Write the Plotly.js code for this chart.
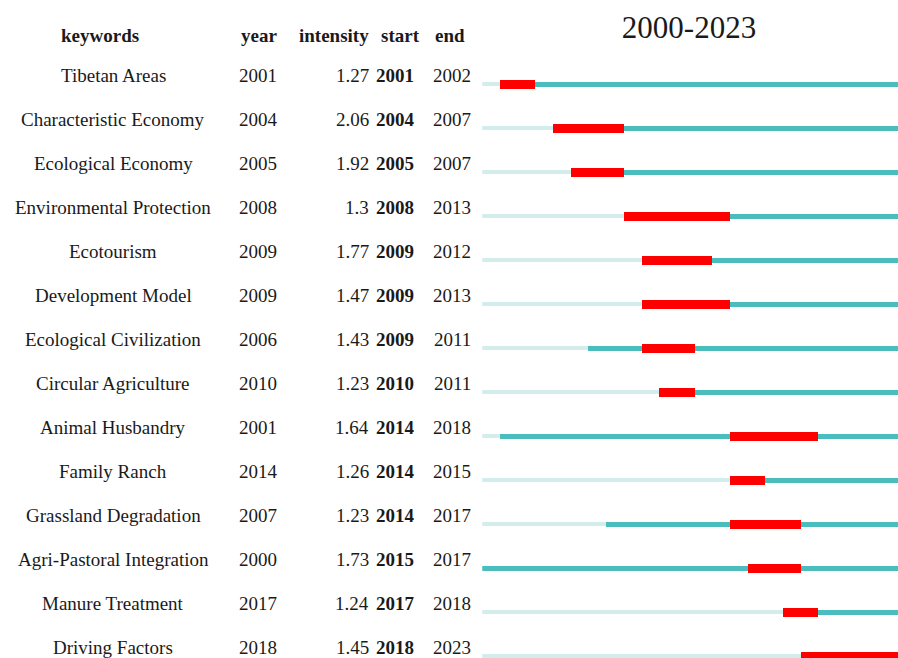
<!DOCTYPE html>
<html>
<head>
<meta charset="utf-8">
<script src="https://cdn.plot.ly/plotly-3.0.1.min.js"></script>
<style>html,body{margin:0;padding:0;background:#fff;}#chart{width:898px;height:658px;}</style>
</head>
<body>
<div id="chart"></div>
<script>
const keywords = ["Tibetan Areas","Characteristic Economy","Ecological Economy","Environmental Protection","Ecotourism","Development Model","Ecological Civilization","Circular Agriculture","Animal Husbandry","Family Ranch","Grassland Degradation","Agri-Pastoral Integration","Manure Treatment","Driving Factors"];
const years = [2001,2004,2005,2008,2009,2009,2006,2010,2001,2014,2007,2000,2017,2018];
const intensity = ["1.27","2.06","1.92","1.3","1.77","1.47","1.43","1.23","1.64","1.26","1.23","1.73","1.24","1.45"];
const starts = [2001,2004,2005,2008,2009,2009,2009,2010,2014,2014,2014,2015,2017,2018];
const ends = [2002,2007,2007,2013,2012,2013,2011,2011,2018,2015,2017,2017,2018,2023];
const headers = ["keywords","year","intensity","start","end"];
const firstYear = 2000, lastYear = 2023;

const W = 898, H = 658;
const rowPx = 44, firstRowPx = 84;
const pxToRow = p => (p - firstRowPx) / rowPx;
const idx = keywords.map((_, i) => i);
const yearPx = 17.69, x0px = 482.3;

const fontFam = '"Liberation Serif","Times New Roman",Times,serif';
const txtColor = '#1a1a1a';

const traces = [
  {type:'bar', orientation:'h', y: idx, base: idx.map(() => firstYear), x: idx.map(() => lastYear + 1 - firstYear),
   width: idx.map(() => 4/rowPx), marker:{color:'#d3ecec'}, hoverinfo:'skip'},
  {type:'bar', orientation:'h', y: idx, base: years, x: years.map(y => lastYear + 1 - y),
   width: idx.map(() => 5/rowPx), marker:{color:'#4bbdbd'}, hoverinfo:'skip'},
  {type:'bar', orientation:'h', y: idx, base: starts, x: starts.map((s, i) => ends[i] + 1 - s),
   width: idx.map(() => 9/rowPx), marker:{color:'#ff0000'}, hoverinfo:'skip'}
];

const ann = [];
const colX = [100, 259, 334, 400, 450];
headers.forEach((h, j) => ann.push({xref:'paper', yref:'y', x: colX[j]/W, y: pxToRow(35), text:'<b>'+h+'</b>',
  showarrow:false, xanchor:'center', yanchor:'middle', font:{family:fontFam, size:19, color:txtColor}}));
idx.forEach(i => {
  const yy = i - 9/rowPx;
  const f = {family:fontFam, size:19, color:txtColor};
  ann.push({xref:'paper', yref:'y', x:113/W, y:yy, text:keywords[i], showarrow:false, xanchor:'center', yanchor:'middle', font:f});
  ann.push({xref:'paper', yref:'y', x:258/W, y:yy, text:String(years[i]), showarrow:false, xanchor:'center', yanchor:'middle', font:f});
  ann.push({xref:'paper', yref:'y', x:371/W, y:yy, text:intensity[i], showarrow:false, xanchor:'right', yanchor:'middle', font:f});
  ann.push({xref:'paper', yref:'y', x:395/W, y:yy, text:'<b>'+starts[i]+'</b>', showarrow:false, xanchor:'center', yanchor:'middle', font:f});
  ann.push({xref:'paper', yref:'y', x:452/W, y:yy, text:String(ends[i]), showarrow:false, xanchor:'center', yanchor:'middle', font:f});
});

const layout = {
  width: W, height: H,
  margin:{l:0, r:0, t:0, b:0, pad:0},
  paper_bgcolor:'#fff', plot_bgcolor:'#fff',
  showlegend:false, barmode:'overlay', bargap:0,
  title:{text: firstYear + '-' + lastYear, x: 689/W, y: 1 - 27/H, xanchor:'center', yanchor:'middle',
    xref:'paper', yref:'container', font:{family:fontFam, size:31, color:txtColor}},
  xaxis:{domain:[x0px/W, 1], range:[firstYear, firstYear + (W - x0px)/yearPx], visible:false, fixedrange:true},
  yaxis:{range:[pxToRow(H), pxToRow(0)], visible:false, fixedrange:true},
  annotations: ann
};

Plotly.newPlot('chart', traces, layout, {displayModeBar:false, staticPlot:true});
</script>
</body>
</html>
